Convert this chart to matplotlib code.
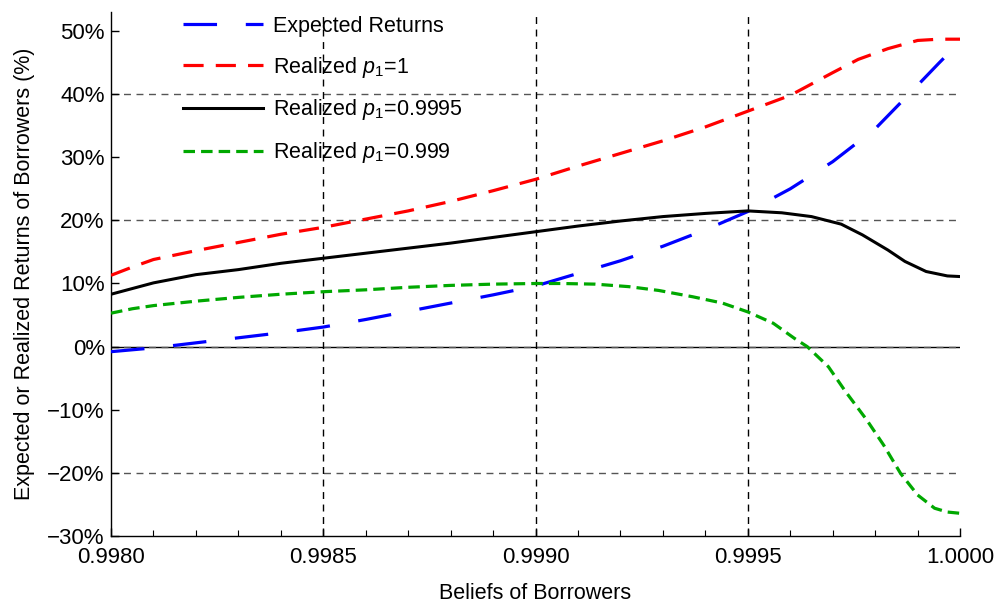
import matplotlib
matplotlib.use("Agg")
import matplotlib.pyplot as plt
import numpy as np

plt.rcParams['font.family'] = ['Liberation Sans', 'DejaVu Sans']
plt.rcParams['mathtext.fontset'] = 'custom'
plt.rcParams['mathtext.rm'] = 'Liberation Sans'
plt.rcParams['mathtext.it'] = 'Liberation Sans:italic'

# ---- data ----
x_red = [0.998, 0.99805, 0.9981, 0.9982, 0.9983, 0.9984, 0.9985, 0.9986, 0.9987, 0.9988, 0.9989,
         0.999, 0.9991, 0.9992, 0.9993, 0.9994, 0.9995, 0.9996, 0.9997, 0.99976, 0.99983, 0.9999,
         0.99995, 1.0]
y_red = [11.3, 12.6, 13.8, 15.2, 16.5, 17.8, 18.9, 20.2, 21.5, 23.0, 24.7,
         26.5, 28.6, 30.6, 32.6, 34.8, 37.3, 39.8, 43.4, 45.5, 47.2, 48.5,
         48.7, 48.7]

x_black = [0.998, 0.99805, 0.9981, 0.9982, 0.9983, 0.9984, 0.9985, 0.9986, 0.9987, 0.9988, 0.9989,
           0.999, 0.9991, 0.9992, 0.9993, 0.9994, 0.9995, 0.99958, 0.99965, 0.99972, 0.99977,
           0.99983, 0.99987, 0.99992, 0.99997, 1.0]
y_black = [8.3, 9.2, 10.1, 11.4, 12.2, 13.2, 14.0, 14.8, 15.6, 16.4, 17.3,
           18.2, 19.1, 19.9, 20.6, 21.1, 21.5, 21.2, 20.6, 19.4, 17.7,
           15.3, 13.5, 11.9, 11.2, 11.1]

x_green = [0.998, 0.99805, 0.9981, 0.9982, 0.9983, 0.9984, 0.9985, 0.9986, 0.9987, 0.9988, 0.9989,
           0.999, 0.99906, 0.99914, 0.99922, 0.99929, 0.99937, 0.99944, 0.9995, 0.99956, 0.99961,
           0.99964, 0.99969, 0.99973, 0.99978, 0.99982, 0.99986, 0.9999, 0.99994, 0.99997, 1.0]
y_green = [5.3, 6.0, 6.5, 7.2, 7.8, 8.3, 8.7, 9.0, 9.4, 9.7, 9.9,
           10.0, 10.0, 9.9, 9.5, 8.9, 7.9, 6.9, 5.5, 3.7, 1.3,
           0.0, -3.2, -7.1, -11.6, -15.6, -20.1, -23.5, -25.6, -26.2, -26.4]

x_blue = [0.998, 0.9981, 0.9982, 0.9983, 0.9984, 0.9985, 0.9986, 0.9987, 0.9988, 0.9989,
          0.999, 0.9991, 0.9992, 0.9993, 0.9994, 0.9995, 0.9996, 0.9997, 0.9998, 0.9999,
          0.99995, 1.0]
y_blue = [-0.8, -0.2, 0.6, 1.4, 2.2, 3.1, 4.3, 5.6, 6.9, 8.2,
          9.6, 11.6, 13.6, 15.9, 18.5, 21.4, 25.0, 29.3, 34.5, 41.4,
          44.9, 48.3]

labels = ["Expected Returns", r"Realized $p_1$=1", r"Realized $p_1$=0.9995", r"Realized $p_1$=0.999"]

x_ticks = [0.998, 0.9985, 0.999, 0.9995, 1.0]
x_ticklabels = ["0.9980", "0.9985", "0.9990", "0.9995", "1.0000"]
y_ticks = [-30, -20, -10, 0, 10, 20, 30, 40, 50]
y_ticklabels = ["\u221230%", "\u221220%", "\u221210%", "0%", "10%", "20%", "30%", "40%", "50%"]
h_grid = [40, 20, 0, -20]
v_grid = [0.9985, 0.999, 0.9995]

# ---- figure ----
fig = plt.figure(figsize=(9.95, 6.02), dpi=100)
ax = fig.add_axes([0.1116, 0.1096, 0.8533, 0.8704])
ax.set_xlim(0.998, 1.0)
ax.set_ylim(-30, 53)

# grid
ax.axhline(0, color='black', lw=1.0, zorder=1)
for g in h_grid:
    ax.axhline(g, color='#555555', lw=1.0, ls=(0, (5, 4)), zorder=1)
for g in v_grid:
    ax.axvline(g, color='black', lw=1.0, ls=(0, (5, 4)), zorder=1)

lw = 2.3
l1, = ax.plot(x_blue, y_blue, color='#0000ff', lw=lw, dashes=(10.5, 9.0), zorder=3)
l2, = ax.plot(x_red, y_red, color='#ff0000', lw=lw, dashes=(6.3, 3.8), zorder=3)
l3, = ax.plot(x_black, y_black, color='black', lw=lw * 0.95, zorder=3)
l4, = ax.plot(x_green, y_green, color='#00a800', lw=lw, dashes=(3.6, 1.9), zorder=3)

leg = ax.legend([l1, l2, l3, l4], labels, loc='upper left', bbox_to_anchor=(0.062, 1.03),
                frameon=False, fontsize=15.5, handlelength=3.7, handletextpad=0.5,
                labelspacing=0.83)

ax.spines['top'].set_visible(False)
ax.spines['right'].set_visible(False)
ax.spines['left'].set_linewidth(1.0)
ax.spines['bottom'].set_linewidth(1.0)

ax.set_xticks(x_ticks)
ax.set_xticklabels(x_ticklabels)
ax.set_xticks(np.arange(0.9981, 1.0, 0.0001), minor=True)
ax.set_yticks(y_ticks)
ax.set_yticklabels(y_ticklabels)
ax.tick_params(axis='both', which='major', direction='in', length=5.5, width=1.0,
               labelsize=16)
ax.tick_params(axis='x', which='major', pad=8)
ax.tick_params(axis='y', which='major', pad=4.5)
ax.tick_params(axis='x', which='minor', direction='in', length=4.5, width=0.8)
ax.tick_params(axis='y', which='minor', left=False)

ax.set_xlabel("Beliefs of Borrowers", fontsize=15.5)
ax.xaxis.set_label_coords(0.5, -0.089)
ax.set_ylabel("Expected or Realized Returns of Borrowers (%)", fontsize=15.5)
ax.yaxis.set_label_coords(-0.0895, 0.5)

fig.savefig("out.png", dpi=100)
